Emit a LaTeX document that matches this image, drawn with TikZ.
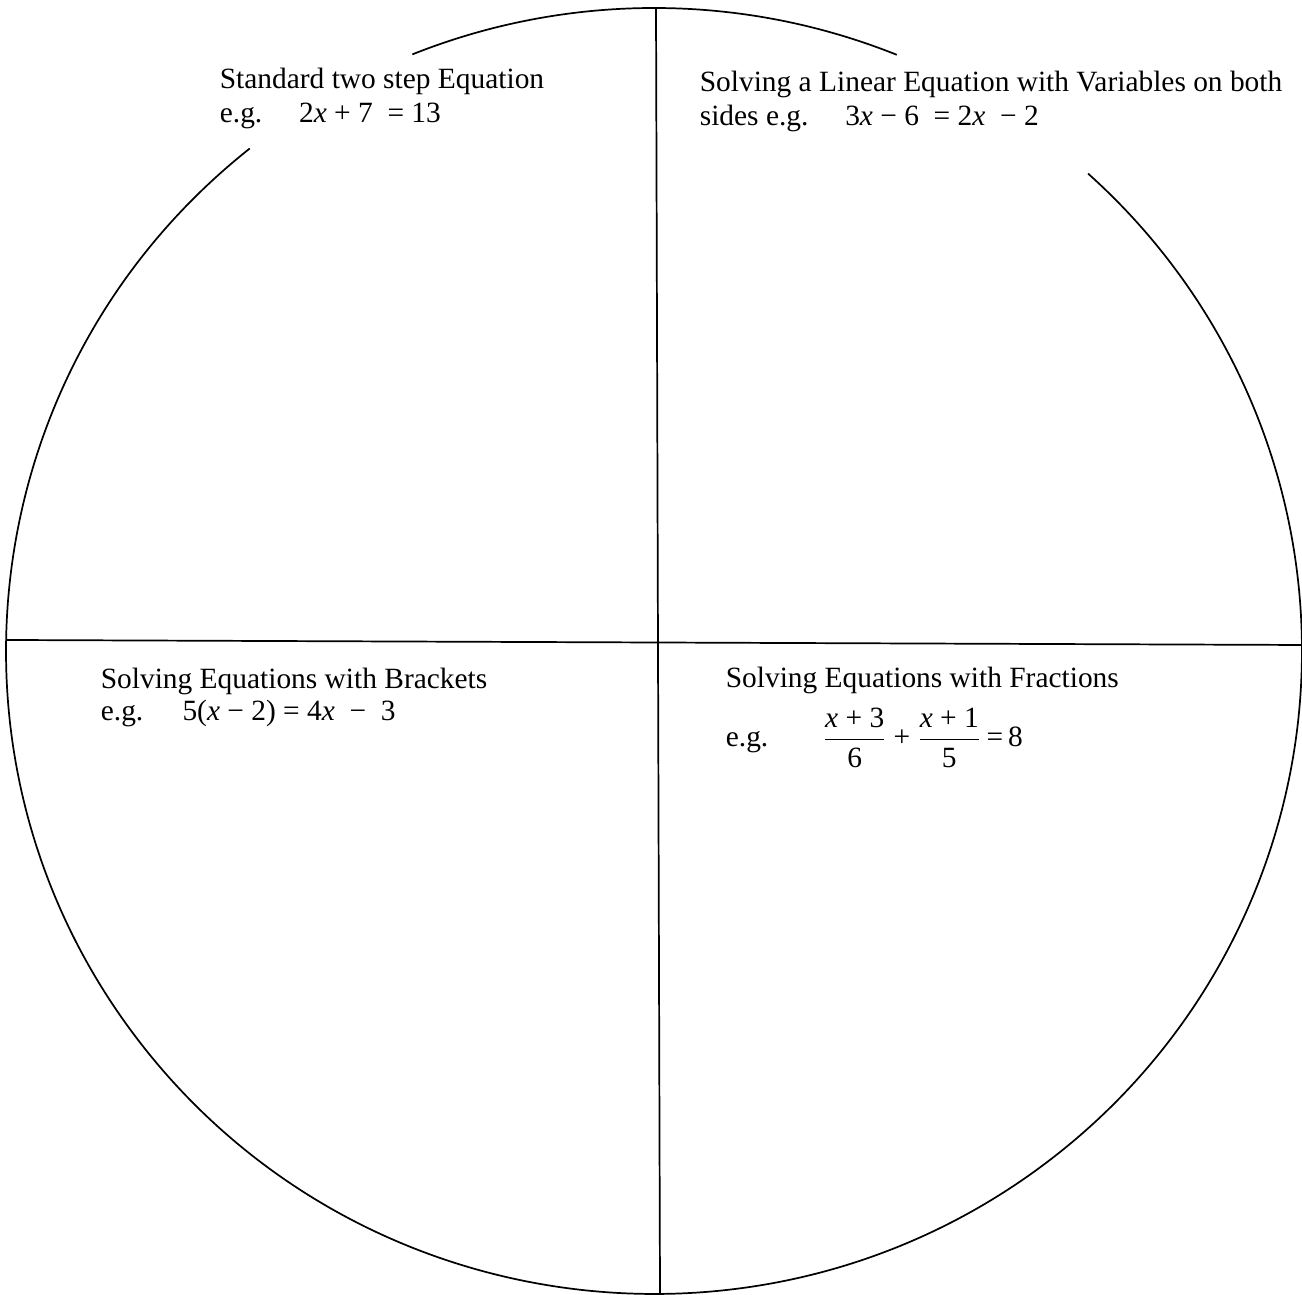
\documentclass[tikz,border=0pt]{standalone}
\usepackage{amsmath}
\usepackage{fontspec}
\setmainfont{Liberation Serif}
\newfontfamily\sheetfont{Liberation Serif}
\usetikzlibrary{positioning}

\newcommand{\vx}{\textit{x}}

\begin{document}
\begin{tikzpicture}[x=0.408pt,y=0.408pt,line width=0.7pt,
    quarter/.style={anchor=base west,inner sep=0pt,font=\sheetfont\fontsize{12}{14}\selectfont}]
    \useasboundingbox (0,0) rectangle (1302,1295);

    % Circle, broken where the two top labels cut it.
    \coordinate (centre) at (654,644);
    \draw (centre) ++(111.9:648 and 643)
      arc[start angle=111.9,end angle=68.0,x radius=648,y radius=643];
    \draw (centre) ++(128.6:648 and 643)
      arc[start angle=128.6,end angle=407.95,x radius=648,y radius=643];

    % Cross dividing the circle into four parts.
    \coordinate (top) at (656,1287);
    \coordinate (bottom) at (660,2);
    \coordinate (left) at (6,655);
    \coordinate (right) at (1302,650);
    \draw (top) -- (bottom);
    \draw (left) -- (right);

    % Labels of the four parts.
    \node[quarter] (twostep) at (219,1206) {Standard two step Equation};
    \node[quarter] (twostepeg) at (219,1172)
      {e.g.\hspace{15pt}2\vx{} + 7 \ = 13};
    \node[quarter] (bothsides) at (699,1203)
      {Solving a Linear Equation with Variables on both};
    \node[quarter] (bothsideseg) at (699,1169)
      {sides e.g.\hspace{15pt}3\vx{} − 6 \ = 2\vx{} \ − 2};
    \node[quarter] (brackets) at (100,606) {Solving Equations with Brackets};
    \node[quarter] (bracketseg) at (100,574)
      {e.g.\hspace{16pt}5(\vx{} − 2) = 4\vx{} \ − \ 3};
    \node[quarter] (fractions) at (725,607) {Solving Equations with Fractions};
    \node[quarter] (fractionseg) at (725,548)
      {e.g.\hspace{22pt}$\dfrac{\text{\vx{} + 3}}{\text{6}}
        \mathbin{\text{+}}\dfrac{\text{\vx{} + 1}}{\text{5}}
        \text{\,=\,8}$};
\end{tikzpicture}
\end{document}
